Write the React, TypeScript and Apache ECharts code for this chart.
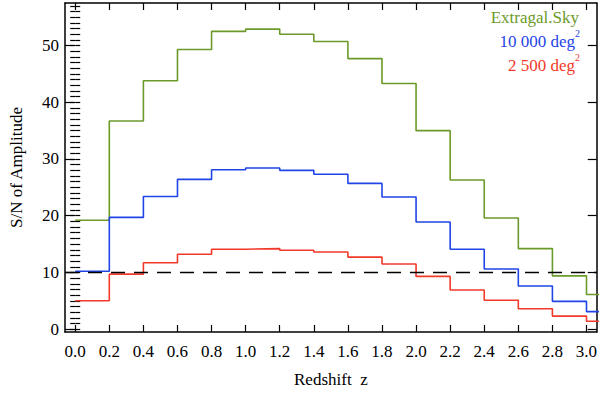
import React, { useEffect, useRef } from "react";
import * as echarts from "echarts";

// Bin edges in redshift z (each bin is 0.2 wide; last bin is cut by the axis)
const binEdges = [0.0, 0.2, 0.4, 0.6, 0.8, 1.0, 1.2, 1.4, 1.6, 1.8, 2.0, 2.2, 2.4, 2.6, 2.8, 3.0, 3.2];
// S/N of amplitude per bin
const extragalSky = [19.2, 36.7, 43.8, 49.3, 52.5, 52.9, 52.0, 50.7, 47.7, 43.3, 35.0, 26.3, 19.6, 14.2, 9.4, 6.1];
const deg10000 = [10.2, 19.7, 23.4, 26.4, 28.1, 28.4, 28.0, 27.3, 25.7, 23.3, 18.9, 14.1, 10.6, 7.6, 4.9, 3.1];
const deg2500 = [5.0, 9.7, 11.7, 13.2, 14.1, 14.2, 13.9, 13.6, 12.7, 11.5, 9.3, 6.9, 5.1, 3.6, 2.3, 1.4];
const threshold = 10;
const xTickValues = [0.0, 0.2, 0.4, 0.6, 0.8, 1.0, 1.2, 1.4, 1.6, 1.8, 2.0, 2.2, 2.4, 2.6, 2.8, 3.0];
const yTickValues = [0, 10, 20, 30, 40, 50];
const yMinorTickValues = Array.from({ length: 58 }, (_, i) => i);
const seriesNames = ["Extragal.Sky", "10 000 deg", "2 500 deg"];

const FONT = "'Liberation Serif', 'Times New Roman', 'DejaVu Serif', serif";
const GREEN = "#6b9a2a";
const BLUE = "#1f45e6";
const RED = "#f2392a";

function stepPoints(vals: number[]) {
  const pts: number[][] = [];
  vals.forEach((v, i) => {
    pts.push([binEdges[i], v], [binEdges[i + 1], v]);
  });
  return pts;
}

export default function App() {
  const ref = useRef<HTMLDivElement>(null);
  useEffect(() => {
    if (!ref.current) return;
    const chart = echarts.init(ref.current, null, { renderer: "svg" });
    const X_MIN = -0.06, X_MAX = 3.06, Y_MIN = -0.5, Y_MAX = 57.5;
    const axisLine = { show: true, onZero: false, lineStyle: { color: "#000", width: 1.5 } };
    const tickStyle = { color: "#000", width: 1.2 };
    const mkX = (pos: "top" | "bottom", labels: boolean) => ({
      type: "value",
      position: pos,
      min: X_MIN,
      max: X_MAX,
      axisLine,
      axisTick: { show: true, inside: true, length: 7, lineStyle: tickStyle, customValues: xTickValues },
      axisLabel: {
        show: labels,
        customValues: xTickValues,
        formatter: (v: number) => v.toFixed(1),
        color: "#000",
        fontFamily: FONT,
        fontSize: 17,
        margin: 11,
      },
      splitLine: { show: false },
      ...(labels
        ? {
            name: "Redshift  z",
            nameLocation: "middle",
            nameGap: 39,
            nameTextStyle: { color: "#000", fontFamily: FONT, fontSize: 17 },
          }
        : {}),
    });
    const mkY = (pos: "left" | "right", major: boolean, labels: boolean) => ({
      type: "value",
      position: pos,
      min: Y_MIN,
      max: Y_MAX,
      axisLine: major ? axisLine : { show: false },
      axisTick: {
        show: true,
        inside: true,
        length: major ? 9 : 5,
        lineStyle: tickStyle,
        customValues: major ? yTickValues : yMinorTickValues,
      },
      axisLabel: {
        show: labels,
        customValues: yTickValues,
        color: "#000",
        fontFamily: FONT,
        fontSize: 17,
        margin: 6,
      },
      splitLine: { show: false },
      ...(labels
        ? {
            name: "S/N of Amplitude",
            nameLocation: "middle",
            nameGap: 40,
            nameTextStyle: { color: "#000", fontFamily: FONT, fontSize: 17 },
          }
        : {}),
    });

    const lineSeries = (name: string, vals: number[], color: string) => ({
      type: "line",
      name,
      data: stepPoints(vals),
      showSymbol: false,
      symbol: "none",
      clip: true,
      xAxisIndex: 0,
      yAxisIndex: 0,
      lineStyle: { color, width: 1.6 },
      z: 3,
    });

    const legendText = (text: string, fill: string, size: number, right: number, top: number) => ({
      type: "text",
      right,
      top,
      style: { text, fill, font: `${size}px ${FONT}` },
    });

    chart.setOption({
      animation: false,
      backgroundColor: "#fff",
      textStyle: { fontFamily: FONT },
      grid: { left: 59, right: 3, top: 3, bottom: 57, containLabel: false },
      xAxis: [mkX("bottom", true), mkX("top", false)],
      yAxis: [mkY("left", true, true), mkY("left", false, false), mkY("right", true, false), mkY("right", false, false)],
      series: [
        {
          type: "line",
          name: "threshold",
          data: [],
          xAxisIndex: 0,
          yAxisIndex: 0,
          markLine: {
            silent: true,
            symbol: "none",
            label: { show: false },
            lineStyle: { color: "#000", width: 1.4, type: [14, 9] },
            data: [{ yAxis: threshold }],
          },
          z: 2,
        },
        lineSeries(seriesNames[0], extragalSky, GREEN),
        lineSeries(seriesNames[1], deg10000, BLUE),
        lineSeries(seriesNames[2], deg2500, RED),
      ],
      graphic: [
        legendText(seriesNames[0], GREEN, 17, 21, 9),
        legendText(seriesNames[1], BLUE, 17, 25, 33),
        legendText("2", BLUE, 10, 20, 28),
        legendText(seriesNames[2], RED, 17, 25, 57),
        legendText("2", RED, 10, 20, 52),
      ],
    });
    return () => chart.dispose();
  }, []);
  return (
    <div
      ref={ref}
      style={{ position: "fixed", left: 0, top: 0, width: 600, height: 393, background: "#fff" }}
    />
  );
}
